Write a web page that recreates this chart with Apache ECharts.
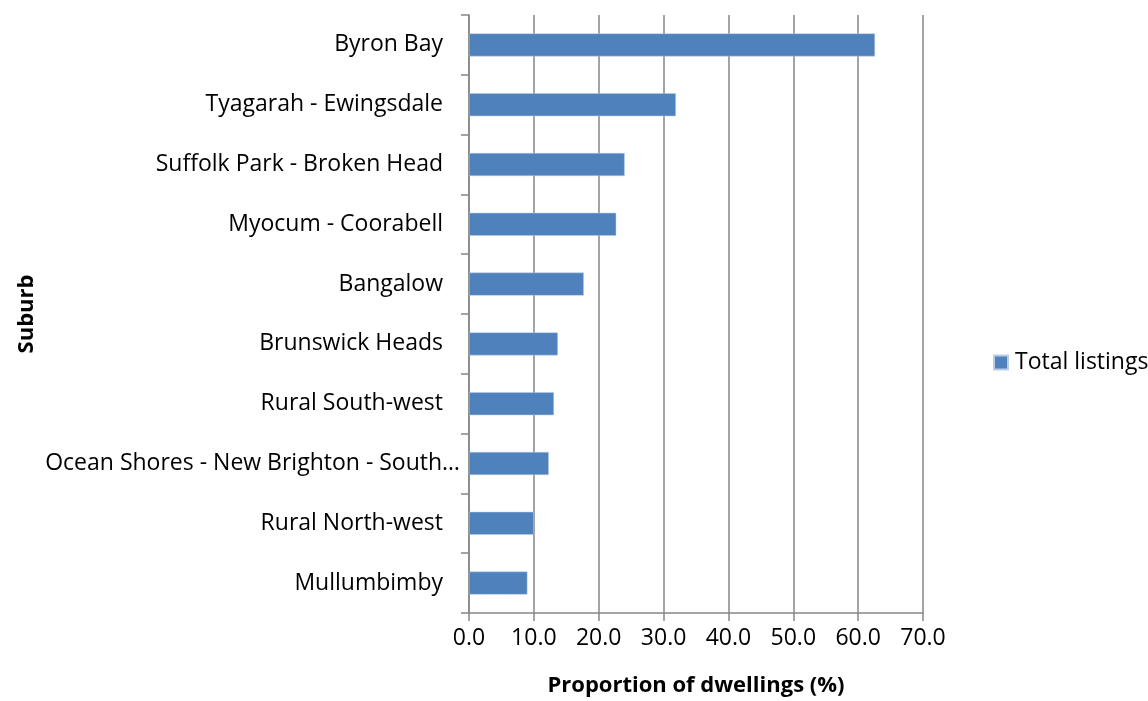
<!DOCTYPE html>
<html>
<head>
<meta charset="utf-8">
<script src="https://cdn.jsdelivr.net/npm/echarts@6/dist/echarts.min.js"></script>
<style>
html,body{margin:0;padding:0;background:#fff;}
#chart{width:1148px;height:701px;}
</style>
</head>
<body>
<div id="chart"></div>
<script>
var suburbs = [
  "Byron Bay",
  "Tyagarah - Ewingsdale",
  "Suffolk Park - Broken Head",
  "Myocum - Coorabell",
  "Bangalow",
  "Brunswick Heads",
  "Rural South-west",
  "Ocean Shores - New Brighton - South\u2026",
  "Rural North-west",
  "Mullumbimby"
];
var totalListings = [62.6, 31.9, 24.0, 22.7, 17.7, 13.7, 13.1, 12.3, 10.0, 9.0];
var seriesName = "Total listings";
var xAxisTitle = "Proportion of dwellings (%)";
var yAxisTitle = "Suburb";

var FONT = "Open Sans";
var categoryData = suburbs.map(function (s) {
  if (s.indexOf('\u2026') >= 0) {
    return {value: s, textStyle: {padding: [0, -17, 0, 0]}};
  }
  return s;
});
var chart = echarts.init(document.getElementById('chart'), null, {renderer: 'canvas'});
chart.setOption({
  animation: false,
  backgroundColor: '#ffffff',
  textStyle: {fontFamily: FONT},
  grid: {left: 469, top: 15, right: 225, bottom: 88, containLabel: false, outerBoundsMode: 'none'},
  legend: {
    data: [seriesName],
    left: 988, top: 346,
    orient: 'vertical',
    itemWidth: 14, itemHeight: 14, itemGap: 6,
    icon: 'rect',
    textStyle: {fontFamily: FONT, fontSize: 23, color: '#000', padding: [0, 0, 0, 2]}
  },
  xAxis: {
    type: 'value',
    min: 0, max: 70, interval: 10,
    name: xAxisTitle,
    nameLocation: 'middle',
    nameGap: 62,
    nameTextStyle: {fontFamily: FONT, fontSize: 22, fontWeight: 'bold', color: '#000'},
    axisLine: {show: true, lineStyle: {color: '#868686', width: 1.5}},
    axisTick: {show: true, length: 8, lineStyle: {color: '#868686', width: 1.5}},
    axisLabel: {
      formatter: function (v) { return v.toFixed(1); },
      fontFamily: FONT, fontSize: 23, color: '#000', margin: 14
    },
    splitLine: {show: true, lineStyle: {color: '#868686', width: 1.5}}
  },
  yAxis: {
    type: 'category',
    data: categoryData,
    inverse: true,
    name: yAxisTitle,
    nameLocation: 'middle',
    nameGap: 431,
    nameRotate: 90,
    nameTextStyle: {fontFamily: FONT, fontSize: 22, fontWeight: 'bold', color: '#000'},
    axisLine: {show: true, lineStyle: {color: '#868686', width: 1.5}},
    axisTick: {show: true, length: 8, alignWithLabel: false, lineStyle: {color: '#868686', width: 1.5}},
    axisLabel: {fontFamily: FONT, fontSize: 23, color: '#000', margin: 26}
  },
  series: [{
    name: seriesName,
    type: 'bar',
    data: totalListings,
    barWidth: 23,
    itemStyle: {color: '#4F81BD', borderColor: '#B9CDE5', borderWidth: 0.5}
  }]
});
</script>
</body>
</html>
